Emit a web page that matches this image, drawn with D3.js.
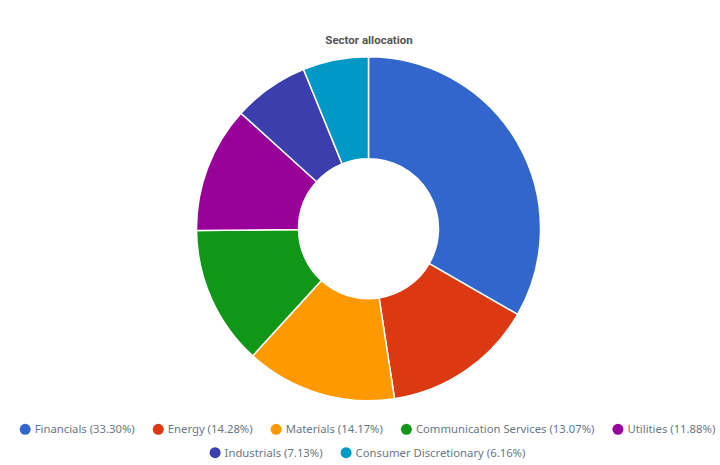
<!DOCTYPE html>
<html>
<head>
<meta charset="utf-8">
<script src="https://cdn.jsdelivr.net/npm/d3@7"></script>
<style>
  body { margin: 0; background: #fff; }
  svg { display: block; }
</style>
</head>
<body>
<div id="chart"></div>
<script>
const sectors = ["Financials", "Energy", "Materials", "Communication Services", "Utilities", "Industrials", "Consumer Discretionary"];
const weights = [33.30, 14.28, 14.17, 13.07, 11.88, 7.13, 6.16];
const colors = ["#3366cc", "#dc3912", "#ff9900", "#109618", "#990099", "#3b3eac", "#0099c6"];

const width = 720;
const height = 465;
const cx = 368.5, cy = 228.7;
const outerR = 172, innerR = 70;

const svg = d3.select("#chart")
  .append("svg")
  .attr("width", width)
  .attr("height", height);

svg.append("text")
  .attr("x", 369)
  .attr("y", 44)
  .attr("text-anchor", "middle")
  .attr("font-family", "Roboto, Arial, sans-serif")
  .attr("font-weight", "bold")
  .attr("font-size", 11.5)
  .attr("fill", "#555")
  .text("Sector allocation");

const data = sectors.map((s, i) => ({ name: s, value: weights[i], color: colors[i] }));

const pie = d3.pie().sort(null).value(d => d.value);
const arc = d3.arc().innerRadius(innerR).outerRadius(outerR);

const g = svg.append("g").attr("transform", `translate(${cx},${cy})`);

g.selectAll("path")
  .data(pie(data))
  .enter()
  .append("path")
  .attr("d", arc)
  .attr("fill", d => d.data.color)
  .attr("stroke", "#fff")
  .attr("stroke-width", 1.5);

// legend, wrapped into centered rows
const legend = svg.append("g");
const fontSize = 11.3;
const items = legend.selectAll("g.item")
  .data(data)
  .enter()
  .append("g")
  .attr("class", "item");

items.append("circle")
  .attr("r", 5.5)
  .attr("fill", d => d.color);

items.append("text")
  .attr("x", 9.5)
  .attr("dy", "0.35em")
  .attr("font-family", "'Noto Sans', 'Open Sans', sans-serif")
  .attr("font-size", fontSize)
  .attr("fill", "#6b7785")
  .text(d => `${d.name} (${d.value.toFixed(2)}%)`);

const maxRow = 705, itemGap = 18;
const rows = [[]];
let rowW = 0;
items.each(function () {
  const w = 15 + d3.select(this).select("text").node().getComputedTextLength();
  const add = rows[rows.length - 1].length ? itemGap + w : w;
  if (rowW + add > maxRow && rows[rows.length - 1].length) {
    rows.push([]);
    rowW = 0;
  }
  const r = rows[rows.length - 1];
  rowW += r.length ? itemGap + w : w;
  r.push({ node: this, w });
});

rows.forEach((r, ri) => {
  const total = d3.sum(r, d => d.w) + itemGap * (r.length - 1);
  let x = 367.5 - total / 2;
  r.forEach(d => {
    d3.select(d.node).attr("transform", `translate(${x + 5.5},${429.3 + ri * 23.4})`);
    x += d.w + itemGap;
  });
});
</script>
</body>
</html>
